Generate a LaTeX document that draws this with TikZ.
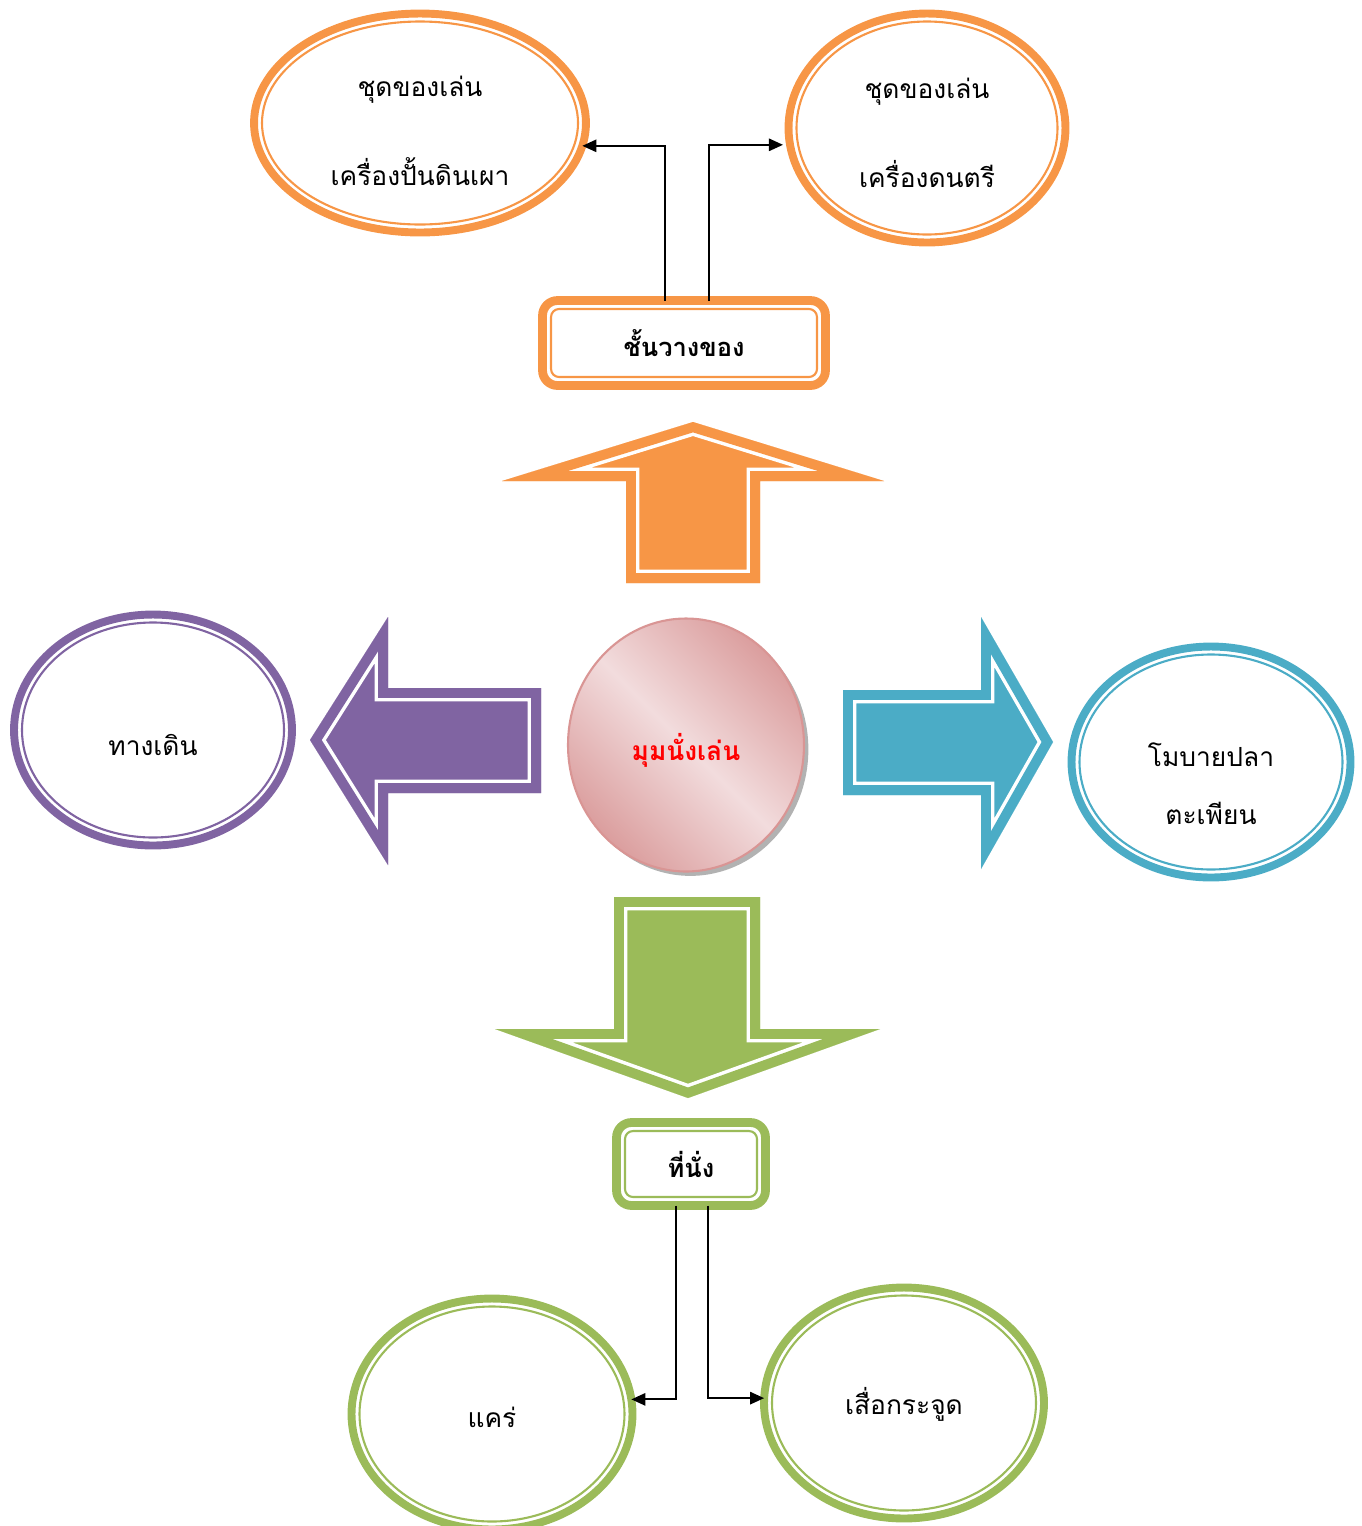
\documentclass[tikz,border=0pt]{standalone}
\usepackage{fontspec}
\newfontfamily\thaifont[Script=Thai]{Loma}
\usetikzlibrary{shapes.geometric,arrows.meta,shadows,positioning}

\definecolor{orangeline}{HTML}{F79646}
\definecolor{purpleline}{HTML}{8064A2}
\definecolor{tealline}{HTML}{4BACC6}
\definecolor{greenline}{HTML}{9BBB59}
\definecolor{pinkdark}{HTML}{DB9E9E}
\definecolor{pinklight}{HTML}{F2DCDD}
\definecolor{pinkborder}{HTML}{D99594}

\tikzset{
  bubble/.style={ellipse, draw=#1, line width=4.5pt, inner sep=0pt, outer sep=0pt},
  bubbletext/.style={align=center, inner sep=0pt, font=\thaifont\fontsize{15}{18}\selectfont},
  innerline/.style={draw=#1, line width=1.2pt},
  labelbox/.style={rectangle, rounded corners=0.3cm, draw=#1, line width=5pt,
    inner sep=0pt, outer sep=0pt, font=\thaifont\bfseries\fontsize{14.5}{17}\selectfont},
  conn/.style={line width=1.1pt, -{Triangle[length=8pt,width=7pt]}},
  bandcol/.style={draw=#1, line width=11.3pt, line join=miter},
  bandgap/.style={draw=white, line width=15.3pt, line join=miter},
}

% block arrow: filled shape with a white line set in from its edge
\newcommand{\blockarrow}[2]{%
  \fill[#1] #2;
  \begin{scope}
    \clip #2;
    \draw[bandgap] #2;
    \draw[bandcol=#1] #2;
  \end{scope}}

\begin{document}
\begin{tikzpicture}[x=0.02cm, y=-0.02cm]
  \useasboundingbox (0,0) rectangle (1362,1526);

  % block arrows
  \blockarrow{orangeline}{(626,583) -- (626,481) -- (502,481) -- (693,422) -- (884,481) -- (760,481) -- (760,583) -- cycle}
  \blockarrow{purpleline}{(541,688) -- (388,688) -- (388,617) -- (310,740) -- (388,865) -- (388,793) -- (541,793) -- cycle}
  \blockarrow{tealline}{(843,690) -- (981,690) -- (981,617) -- (1053,742) -- (981,869) -- (981,795) -- (843,795) -- cycle}
  \blockarrow{greenline}{(614,897) -- (760,897) -- (760,1029) -- (880,1029) -- (688,1098) -- (495,1029) -- (614,1029) -- cycle}

  % centre
  \node[ellipse, minimum width=4.72cm, minimum height=5.06cm, draw=pinkborder, line width=1.2pt,
    top color=pinkdark, bottom color=pinkdark, middle color=pinklight, shading angle=-45,
    drop shadow={shadow xshift=2.5pt, shadow yshift=-2.5pt, fill=black, opacity=0.3}] (corner) at (686,745) {};
  \node[font=\thaifont\bfseries\fontsize{15}{18}\selectfont, text=red, inner sep=0pt] (cornertext) at (686,750) {มุมนั่งเล่น};

  % top
  \node[labelbox=orangeline, minimum width=5.66cm, minimum height=1.7cm] (shelf) at (684,343) {ชั้นวางของ};
  \draw[innerline=orangeline, rounded corners=0.16cm] ([shift={(0.17cm,0.17cm)}]shelf.south west) rectangle ([shift={(-0.17cm,-0.17cm)}]shelf.north east);

  \node[bubble=orangeline, minimum width=6.64cm, minimum height=4.38cm] (toyclay) at (420,123) {};
  \draw[innerline=orangeline] (toyclay.center) ellipse [x radius=158, y radius=101.5];
  \node[bubbletext] (toyclaytext) at (420,131) {ชุดของเล่น\\[30pt]เครื่องปั้นดินเผา};
  \node[bubble=orangeline, minimum width=5.54cm, minimum height=4.58cm] (toymusic) at (927,128) {};
  \draw[innerline=orangeline] (toymusic.center) ellipse [x radius=130.5, y radius=106.5];
  \node[bubbletext] (toymusictext) at (927,133) {ชุดของเล่น\\[30pt]เครื่องดนตรี};

  \draw[conn] ([xshift=-0.38cm]shelf.north) |- (toyclay.-8);
  \draw[conn, shorten >=4pt] ([xshift=0.5cm]shelf.north) |- (toymusic.187);

  % left and right
  \node[bubble=purpleline, minimum width=5.56cm, minimum height=4.62cm] (walk) at (153,730) {};
  \draw[innerline=purpleline] (walk.center) ellipse [x radius=131, y radius=107.5];
  \node[bubbletext] (walktext) at (153,745) {ทางเดิน};
  \node[bubble=tealline, minimum width=5.58cm, minimum height=4.62cm] (mobile) at (1211,762) {};
  \draw[innerline=tealline] (mobile.center) ellipse [x radius=131.5, y radius=107.5];
  \node[bubbletext] (mobiletext) at (1211,784) {โมบายปลา\\[15pt]ตะเพียน};

  % bottom
  \node[labelbox=greenline, minimum width=2.98cm, minimum height=1.66cm] (seat) at (691,1164) {ที่นั่ง};
  \draw[innerline=greenline, rounded corners=0.16cm] ([shift={(0.17cm,0.17cm)}]seat.south west) rectangle ([shift={(-0.17cm,-0.17cm)}]seat.north east);

  \node[bubble=greenline, minimum width=5.62cm, minimum height=4.62cm] (bench) at (492,1414) {};
  \draw[innerline=greenline] (bench.center) ellipse [x radius=132.5, y radius=107.5];
  \node[bubbletext] (benchtext) at (492,1417) {แคร่};
  \node[bubble=greenline, minimum width=5.6cm, minimum height=4.62cm] (mat) at (904,1403) {};
  \draw[innerline=greenline] (mat.center) ellipse [x radius=132, y radius=107.5];
  \node[bubbletext] (mattext) at (904,1404) {เสื่อกระจูด};

  \draw[conn] ([xshift=-0.3cm]seat.south) |- (bench.6);
  \draw[conn] ([xshift=0.34cm]seat.south) |- (mat.178);
\end{tikzpicture}
\end{document}
